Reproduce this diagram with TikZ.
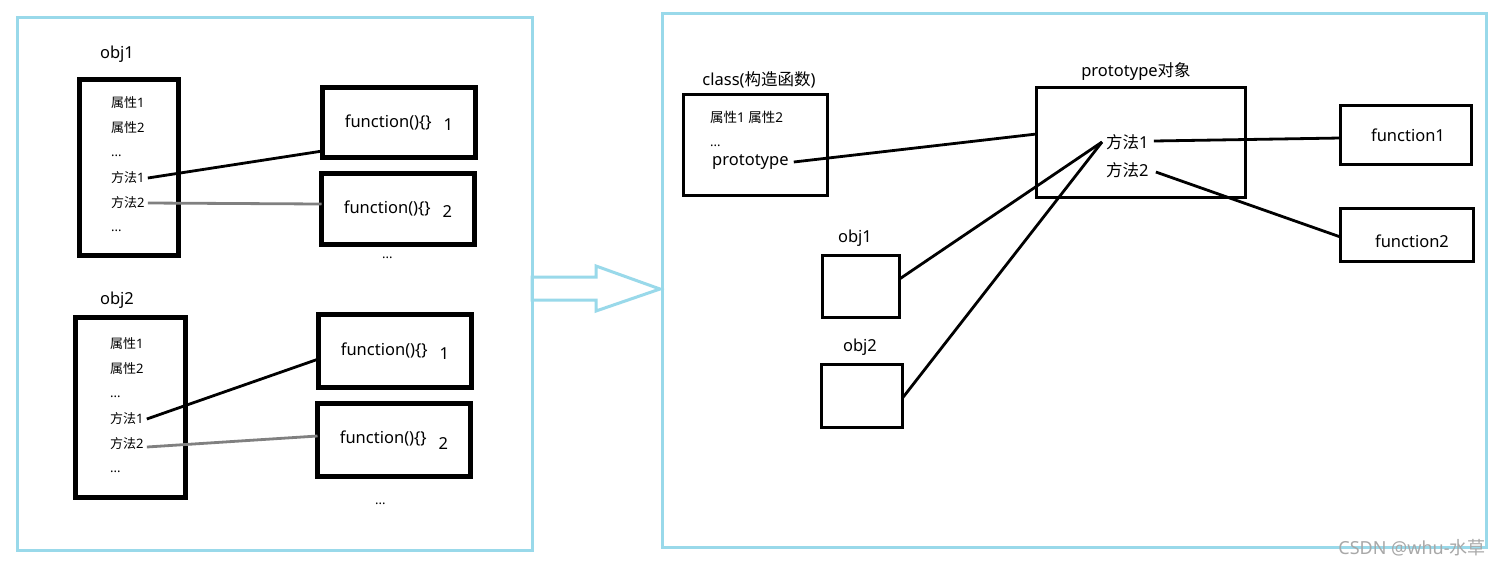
\documentclass[tikz,border=0pt]{standalone}
\usepackage{fontspec}
\setmainfont{Noto Sans}
\newfontfamily\zh{Noto Sans CJK SC}
\usetikzlibrary{calc}
\definecolor{frameblue}{HTML}{99D9EA}
\definecolor{linkgray}{HTML}{808080}
\definecolor{wmgray}{HTML}{A8A8A8}
\begin{document}
\begin{tikzpicture}[x=1pt,y=-1pt,
  panel/.style={draw=frameblue, line width=3pt, anchor=north west, inner sep=0pt, outer sep=0pt},
  objbox/.style={draw, line width=5pt, anchor=north west, inner sep=0pt, outer sep=0pt},
  thinbox/.style={draw, line width=3.3pt, anchor=north west, inner sep=0pt, outer sep=0pt},
  small/.style={font=\fontsize{13}{15}\selectfont, inner sep=0pt, anchor=west},
  mid/.style={font=\fontsize{13.5}{15}\selectfont, inner sep=0pt, anchor=west},
  big/.style={font=\fontsize{16.5}{19}\selectfont, inner sep=0pt},
  fbox/.style={objbox, font=\fontsize{16.5}{19}\selectfont},
  link/.style={line width=2.8pt},
  glink/.style={line width=2.8pt, draw=linkgray},
]
\useasboundingbox[fill=white] (0,0) rectangle (1504,566);

% panels
\node[panel, minimum width=515pt, minimum height=533pt] (lp) at (17.5,17.5) {};
\node[panel, minimum width=824pt, minimum height=534pt] (rp) at (662.5,13.5) {};

% hollow arrow
\draw[frameblue, line width=3pt, line join=miter]
  (532,277) -- (596,277) -- (596,266) -- (660,289) -- (596,311) -- (596,300) -- (532,300) -- cycle;

% ---------- left: obj1 ----------
\node[big] (l1) at (117,54) {obj1};
\node[objbox, minimum width=99pt, minimum height=176pt] (o1) at (79.5,79.5) {};
\node[small] (a11) at (111,103) {{\zh 属性}1};
\node[small] (a12) at (111,128) {{\zh 属性}2};
\node[small] (d11) at (111,156) {...};
\node[small] (m11) at (111,178) {{\zh 方法}1};
\node[small] (m12) at (111,203) {{\zh 方法}2};
\node[small] (d12) at (111,231) {...};

\node[fbox, minimum width=153pt, minimum height=70pt] (f1) at (322.5,87.5) {function()\{\}\hspace{12pt}\raisebox{-3pt}{1}};
\node[fbox, minimum width=153pt, minimum height=71pt] (f2) at (321.5,173.5) {function()\{\}\hspace{12pt}\raisebox{-4pt}{2}};
\node[small] (d13) at (382,258) {...};

\draw[link] ([xshift=3pt]m11.east) -- ([yshift=-28.5pt]f1.west);
\draw[glink] ([xshift=3pt]m12.east) -- ([yshift=5pt]f2.west);

% ---------- left: obj2 ----------
\node[big] (l2) at (117,300) {obj2};
\node[objbox, minimum width=110pt, minimum height=180pt] (o2) at (75.5,317.5) {};
\node[small] (a21) at (110,344) {{\zh 属性}1};
\node[small] (a22) at (110,369) {{\zh 属性}2};
\node[small] (d21) at (110,397) {...};
\node[small] (m21) at (110,419) {{\zh 方法}1};
\node[small] (m22) at (110,444) {{\zh 方法}2};
\node[small] (d22) at (110,472) {...};

\node[fbox, minimum width=153pt, minimum height=73pt] (f3) at (318.5,314.5) {function()\{\}\hspace{12pt}\raisebox{-4pt}{1}};
\node[fbox, minimum width=153pt, minimum height=73pt] (f4) at (317.5,403.5) {function()\{\}\hspace{12pt}\raisebox{-6pt}{2}};
\node[small] (d23) at (375,504) {...};

\draw[link] ([xshift=3pt]m21.east) -- ([yshift=-8pt]f3.west);
\draw[glink] ([xshift=3pt,yshift=-3pt]m22.east) -- ([yshift=4pt]f4.west);

% ---------- right ----------
\node[big] (cl) at (759,80) {class({\zh 构造函数})};
\node[thinbox, minimum width=144pt, minimum height=101pt] (cb) at (683.5,94.5) {};
\node[mid] (ca) at (710,117) {{\zh 属性}1 {\zh 属性}2};
\node[small] (cd) at (710,146) {...};
\node[big, anchor=west] (cp) at (712,162) {prototype};

\node[big] (pl) at (1136,72) {prototype{\zh 对象}};
\node[thinbox, minimum width=209pt, minimum height=110pt] (pb) at (1036.5,87.5) {};
\node[big, anchor=west] (pm1) at (1106,142) {{\zh 方法}1};
\node[big, anchor=west] (pm2) at (1106,170) {{\zh 方法}2};

\node[thinbox, minimum width=131pt, minimum height=59pt] (rf1) at (1340.5,105.5) {};
\node[big] (rf1t) at (1408,135) {function1};
\node[thinbox, minimum width=133pt, minimum height=53pt] (rf2) at (1340.5,208.5) {};
\node[big] (rf2t) at (1412,241) {function2};

\node[big] (rl1) at (855,238) {obj1};
\node[thinbox, minimum width=77pt, minimum height=62pt] (ro1) at (822.5,255.5) {};
\node[big] (rl2) at (860,347) {obj2};
\node[thinbox, minimum width=81pt, minimum height=63pt] (ro2) at (821.5,364.5) {};

\draw[link] ([xshift=5pt]cp.east) -- ([yshift=8.5pt]pb.west);
\draw[link] ([xshift=5pt,yshift=1pt]pm1.east) -- ([yshift=-3pt]rf1.west);
\draw[link] ([xshift=7pt,yshift=-2pt]pm2.east) -- ([yshift=-2pt]rf2.west);
\draw[link] ([yshift=7.5pt]ro1.east) -- ([xshift=-4pt]pm1.west);
\draw[link] ([yshift=-2pt]ro2.east) -- ([xshift=-4pt]pm1.west);

% watermark
\node[font=\fontsize{18}{20}\selectfont, text=wmgray, inner sep=0pt] (wm) at (1412,548) {CSDN @whu-{\zh 水草}};
\end{tikzpicture}
\end{document}
